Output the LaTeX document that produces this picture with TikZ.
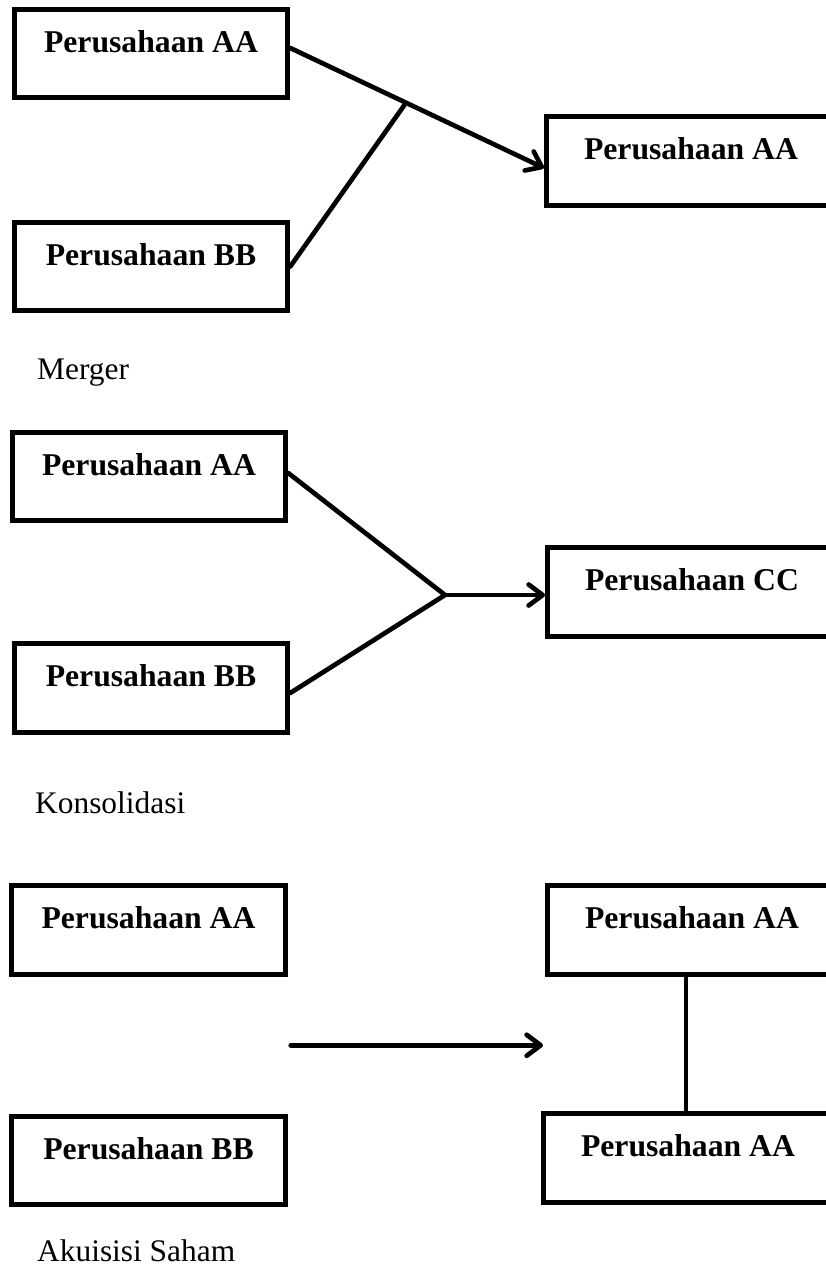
\documentclass[tikz,border=0pt]{standalone}
\usepackage{fontspec}
\setmainfont{Liberation Serif}
\usetikzlibrary{arrows.meta,calc}
\begin{document}
\begin{tikzpicture}[x=1pt,y=-1pt,
  box/.style={draw, line width=5pt, rectangle, text height=20pt, text depth=23pt,
    inner sep=0pt, font=\fontsize{31.7pt}{38pt}\selectfont\bfseries, minimum height=88.5pt},
  lbox/.style={box, minimum width=273.5pt},
  rbox/.style={box, minimum width=289pt},
  conn/.style={line width=4.7pt, line cap=round, line join=round},
  arr/.style={conn, -{Straight Barb[length=14pt,width=21pt,round]}},
  caption/.style={anchor=base west, inner sep=0pt, text depth=0pt, font=\fontsize{31.4pt}{38pt}\selectfont}]
\useasboundingbox (0,0) rectangle (826,1269);
\clip (0,0) rectangle (826,1269);

% Merger
\node[lbox] (a1) at (151,53.5) {Perusahaan AA};
\node[lbox] (b1) at (151,266.5) {Perusahaan BB};
\node[rbox] (r1) at (691,161) {Perusahaan AA};
\coordinate (m1s) at ([yshift=5.5pt]a1.east);
\coordinate (m1t) at ([yshift=-7pt]r1.west);
\draw[arr] (m1s) -- (m1t);
\coordinate (m1j) at ($(m1s)!0.45!(m1t)$);
\draw[conn] (b1.east) -- ([yshift=-3pt]m1j);
\node[caption] (capm) at (37,379) {Merger};

% Konsolidasi
\node[lbox] (a2) at (149,476.5) {Perusahaan AA};
\node[lbox] (b2) at (151,688) {Perusahaan BB};
\node[rbox] (c2) at (692,592) {Perusahaan CC};
\coordinate (k2j) at (445,595);
\draw[conn] ([yshift=3.5pt]a2.east) -- (k2j) -- ([yshift=-5pt]b2.east);
\draw[arr] (k2j) -- (k2j -| c2.west);
\node[caption] (capk) at (35,813) {Konsolidasi};

% Akuisisi Saham
\node[lbox] (a3) at (148.5,930) {Perusahaan AA};
\node[lbox] (b3) at (148.5,1160.5) {Perusahaan BB};
\node[rbox] (r3a) at (692,930) {Perusahaan AA};
\node[rbox] (r3b) at (688,1158) {Perusahaan AA};
\coordinate (q3s) at ($(a3.east)!0.5!(b3.east)$);
\coordinate (q3t) at ($(r3a.west)!0.5!(r3b.west)$);
\draw[arr] ([xshift=3pt]q3s) -- (q3s -| q3t);
\draw[conn, line width=4.2pt, line cap=butt] ([xshift=-2pt]r3b.north) -- ([xshift=-2pt]r3b.north |- r3a.south);
\node[caption] (capa) at (37,1261) {Akuisisi Saham};
\end{tikzpicture}
\end{document}
